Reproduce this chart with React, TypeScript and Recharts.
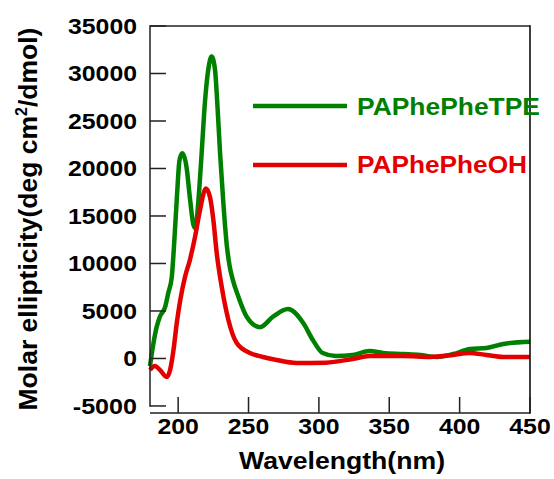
import React from 'react'
import { LineChart, Line, XAxis, YAxis } from 'recharts'

// CD spectra, wavelength (nm) vs molar ellipticity
const TPE_NM = [
  180, 182, 184.7, 187, 190.7, 193, 195.5, 197, 199, 201, 203, 206, 208.5, 211, 212.5,
  214, 216.7, 219, 221.4, 223.8, 226.2, 227.8, 229.8, 232.1, 234.5, 236.5, 239, 242.8, 248.7,
  258.2, 267.4, 278, 289, 295.7, 302.7, 312, 324, 336, 345.6, 360, 372, 383.7, 395.5,
  407.4, 419, 431, 450,
]
const TPE_VAL = [
  -800, 1200, 3300, 4400, 5400, 6900, 8600, 11700, 16700, 20900, 21600, 20100, 16700, 14000,
  13700, 15900, 21600, 26900, 30400, 31800, 30400, 26900, 21600, 16400, 12000, 9800, 8200, 6500,
  4400, 3300, 4400, 5200, 3700, 1950, 580, 260, 370, 790, 580, 470, 370, 160, 470, 1000, 1100,
  1530, 1750,
]

const OH_NM = [
  180, 183.5, 187, 191.9, 194.3, 196.7, 199, 201.5, 204.9, 208.4, 212, 215.5, 219.7, 222.6,
  225, 227.4, 231, 235.7, 241.6, 251, 260.3, 270, 284, 305, 324, 336, 360, 379, 395.5, 407,
  419, 431, 450,
]
const OH_VAL = [
  -1200, -800, -1200, -1950, -1200, 900, 3700, 6150, 8600, 10400, 12800, 15600, 17900, 17000,
  14600, 11100, 7500, 4050, 1630, 580, 160, -160, -470, -440, -50, 260, 260, 160, 370, 580,
  370, 160, 160,
]

const X_TICKS = [200, 250, 300, 350, 400, 450]
const Y_TICKS = [-5000, 0, 5000, 10000, 15000, 20000, 25000, 30000, 35000]

const X_DOMAIN: [number, number] = [180, 450]
const Y_DOMAIN: [number, number] = [-5740, 35000]

const GREEN = '#008000'
const RED = '#e30000'
const AXIS_COLOUR = '#222'
const FONT = '"Liberation Sans", Arial, Helvetica, sans-serif'

// plot box inside the 554x479 surface
const PLOT = { left: 150, right: 530, top: 26, bottom: 413 }
const TICK_LEN = 16
const RULE = 1.5

const tpeData = TPE_NM.map((nm, i) => ({ nm, v: TPE_VAL[i] }))
const ohData = OH_NM.map((nm, i) => ({ nm, v: OH_VAL[i] }))

const sx = (nm: number) =>
  PLOT.left + ((nm - X_DOMAIN[0]) / (X_DOMAIN[1] - X_DOMAIN[0])) * (PLOT.right - PLOT.left)
const sy = (v: number) =>
  PLOT.top + ((Y_DOMAIN[1] - v) / (Y_DOMAIN[1] - Y_DOMAIN[0])) * (PLOT.bottom - PLOT.top)

// tick labels are drawn a little wider than the font's natural width
const labelWidth = (s: string) =>
  s.split('').reduce((w, c) => w + (c === '-' ? 9 : 13.8), 0)

function TickLabel(props: any) {
  const { x, y, payload, textAnchor, dy } = props
  const label = String(payload.value)
  return (
    <text
      x={x}
      y={y + dy}
      textAnchor={textAnchor}
      fontFamily={FONT}
      fontWeight="bold"
      fontSize={22}
      fill="#000"
      textLength={labelWidth(label)}
      lengthAdjust="spacingAndGlyphs"
    >
      {label}
    </text>
  )
}

// axis rules and inward ticks as thin filled rects
function Rules() {
  const yTop = sy(Y_TICKS[Y_TICKS.length - 1])
  const yLow = sy(Y_TICKS[0])
  return (
    <g fill={AXIS_COLOUR}>
      <rect x={PLOT.left - RULE / 2} y={yTop - RULE / 2} width={RULE} height={yLow - yTop + RULE} />
      <rect x={PLOT.left} y={PLOT.bottom - RULE / 2} width={PLOT.right - PLOT.left} height={RULE} />
      <rect x={PLOT.left} y={PLOT.top - RULE / 2} width={PLOT.right - PLOT.left} height={RULE} />
      <rect x={PLOT.right - RULE / 2} y={PLOT.top - RULE / 2} width={RULE} height={PLOT.bottom - PLOT.top + RULE} fill="#000" />
      {Y_TICKS.map((t) => (
        <rect key={`y${t}`} x={PLOT.left} y={sy(t) - RULE / 2} width={TICK_LEN} height={RULE} />
      ))}
      {X_TICKS.map((t) => (
        <rect key={`x${t}`} x={sx(t) - RULE / 2} y={PLOT.bottom - TICK_LEN} width={RULE} height={TICK_LEN} />
      ))}
    </g>
  )
}

// legend and axis titles drawn over the chart
function Overlay() {
  return (
    <svg
      width={554}
      height={479}
      style={{ position: 'absolute', left: 0, top: 0, pointerEvents: 'none' }}
    >
      <Rules />

      <rect x={253} y={103.75} width={94} height={4.5} fill={GREEN} />
      <text
        x={357}
        y={115}
        fontFamily={FONT}
        fontWeight="bold"
        fontSize={23.5}
        fill={GREEN}
        textLength={183}
        lengthAdjust="spacingAndGlyphs"
      >
        PAPhePheTPE
      </text>
      <rect x={253} y={162.75} width={94} height={4.5} fill={RED} />
      <text
        x={357}
        y={173}
        fontFamily={FONT}
        fontWeight="bold"
        fontSize={23.5}
        fill={RED}
        textLength={170}
        lengthAdjust="spacingAndGlyphs"
      >
        PAPhePheOH
      </text>

      <text
        x={342}
        y={469}
        textAnchor="middle"
        fontFamily={FONT}
        fontWeight="bold"
        fontSize={23}
        fill="#000"
        textLength={206}
        lengthAdjust="spacingAndGlyphs"
      >
        Wavelength(nm)
      </text>
      <text
        transform="translate(37,219) rotate(-90)"
        textAnchor="middle"
        fontFamily={FONT}
        fontWeight="bold"
        fontSize={26.5}
        fill="#000"
      >
        Molar ellipticity(deg cm
        <tspan fontSize={16} dy={-10}>
          2
        </tspan>
        <tspan dy={10}>/dmol)</tspan>
      </text>
    </svg>
  )
}

export default function App() {
  return (
    <div style={{ position: 'fixed', left: 0, top: 0, width: 554, height: 479, background: '#fff' }}>
      <LineChart
        width={554}
        height={479}
        margin={{ top: PLOT.top, right: 554 - PLOT.right, left: 0, bottom: 0 }}
      >
        <XAxis
          dataKey="nm"
          type="number"
          domain={X_DOMAIN}
          ticks={X_TICKS}
          height={479 - PLOT.bottom}
          tickSize={-16}
          tickMargin={22}
          tickLine={false}
          axisLine={false}
          tick={<TickLabel textAnchor="middle" dy={15} />}
        />
        <YAxis
          type="number"
          domain={Y_DOMAIN}
          ticks={Y_TICKS}
          width={PLOT.left}
          tickSize={-16}
          tickMargin={29}
          tickLine={false}
          axisLine={false}
          tick={<TickLabel textAnchor="end" dy={8} />}
        />
        <Line
          data={tpeData}
          dataKey="v"
          type="monotone"
          stroke={GREEN}
          strokeWidth={4.5}
          dot={false}
          isAnimationActive={false}
        />
        <Line
          data={ohData}
          dataKey="v"
          type="monotone"
          stroke={RED}
          strokeWidth={4.5}
          dot={false}
          isAnimationActive={false}
        />
      </LineChart>
      <Overlay />
    </div>
  )
}
